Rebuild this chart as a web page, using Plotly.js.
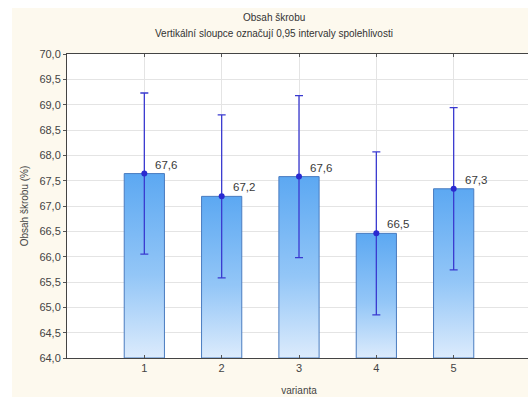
<!DOCTYPE html>
<html>
<head>
<meta charset="utf-8">
<script src="https://cdn.plot.ly/plotly-3.0.1.min.js"></script>
<style>
  html, body { margin: 0; padding: 0; background: #ffffff; width: 528px; height: 397px; overflow: hidden; position: relative; }
  #chart { position: absolute; left: 12px; top: 8px; width: 519px; height: 389px; }
</style>
</head>
<body>
<div id="chart"></div>
<script>
// Data
const categories = [1, 2, 3, 4, 5];
const means = [67.64, 67.19, 67.58, 66.46, 67.34];
const ciHalf = [1.59, 1.61, 1.60, 1.61, 1.60];
const yTickVals = [64.0, 64.5, 65.0, 65.5, 66.0, 66.5, 67.0, 67.5, 68.0, 68.5, 69.0, 69.5, 70.0];

const titleText = 'Obsah škrobu';
const subtitleText = 'Vertikální sloupce označují 0,95 intervaly spolehlivosti';
const xTitle = 'varianta';
const yTitle = 'Obsah škrobu (%)';

const fmt = v => v.toFixed(1).replace('.', ',');
const baseVal = 64.0;

const barTrace = {
  type: 'bar',
  x: categories,
  y: means.map(v => v - baseVal),
  base: baseVal,
  width: 0.52,
  marker: { color: '#7db9f4', line: { color: '#4a7cc0', width: 1 } },
  hoverinfo: 'skip'
};

const meanTrace = {
  type: 'scatter',
  mode: 'markers',
  x: categories,
  y: means,
  marker: { color: '#2a2ad0', size: 6 },
  error_y: { type: 'data', array: ciHalf, visible: true, color: '#3a3ad0', thickness: 1.3, width: 4 },
  hoverinfo: 'skip'
};

const annotations = categories.map((c, i) => ({
  x: c, y: means[i], xref: 'x', yref: 'y',
  text: fmt(means[i]), showarrow: false,
  xanchor: 'left', yanchor: 'bottom', xshift: 9, yshift: 1,
  font: { family: 'Liberation Sans, Arial, sans-serif', size: 11.5, color: '#3a3a3a' }
}));

const plotW = 519 - 55;
const titleX = (274 - 12 - 55) / plotW;
annotations.push({
  xref: 'paper', yref: 'paper', x: titleX, y: 1 + 37/304, xanchor: 'center', yanchor: 'middle',
  text: titleText, showarrow: false,
  font: { family: 'Liberation Sans, Arial, sans-serif', size: 10, color: '#333333' }
});
annotations.push({
  xref: 'paper', yref: 'paper', x: titleX, y: 1 + 21/304, xanchor: 'center', yanchor: 'middle',
  text: subtitleText, showarrow: false,
  font: { family: 'Liberation Sans, Arial, sans-serif', size: 10, color: '#333333' }
});

const layout = {
  width: 519, height: 389,
  margin: { l: 55, r: 0, t: 46, b: 39, pad: 0 },
  paper_bgcolor: '#fdf9ee',
  plot_bgcolor: '#ffffff',
  separators: ', ',
  showlegend: false,
  font: { family: 'Liberation Sans, Arial, sans-serif', size: 11, color: '#444444' },
  xaxis: {
    range: [0, 6],
    tickvals: categories,
    ticktext: categories.map(String),
    ticks: 'inside', ticklen: 3, tickcolor: '#555555',
    showline: true, linecolor: '#444444', linewidth: 1, mirror: 'ticks',
    showgrid: true, gridcolor: '#e4e4e4', gridwidth: 1,
    zeroline: false,
    tickfont: { size: 11, color: '#444444' },
    title: { text: xTitle, font: { size: 10, color: '#444444' }, standoff: 13 }
  },
  yaxis: {
    range: [64, 70],
    tickvals: yTickVals,
    tickformat: '.1f',
    ticks: 'outside', ticklen: 3, tickcolor: '#555555',
    showline: true, linecolor: '#444444', linewidth: 1,
    showgrid: true, gridcolor: '#e4e4e4', gridwidth: 1,
    zeroline: false,
    tickfont: { size: 11, color: '#444444' },
    title: { text: yTitle, font: { size: 10, color: '#444444' }, standoff: 8 }
  },
  annotations: annotations
};

Plotly.newPlot('chart', [barTrace, meanTrace], layout, { displayModeBar: false, staticPlot: true }).then(gd => {
  const svgNS = 'http://www.w3.org/2000/svg';
  const svg = gd.querySelector('svg.main-svg');
  let defs = svg.querySelector('defs');
  if (!defs) { defs = document.createElementNS(svgNS, 'defs'); svg.insertBefore(defs, svg.firstChild); }
  const grad = document.createElementNS(svgNS, 'linearGradient');
  grad.setAttribute('id', 'bargrad');
  grad.setAttribute('x1', '0'); grad.setAttribute('y1', '0');
  grad.setAttribute('x2', '0'); grad.setAttribute('y2', '1');
  [['0%', '#5ca8f2'], ['55%', '#93c6f7'], ['100%', '#dcebfc']].forEach(([o, c]) => {
    const s = document.createElementNS(svgNS, 'stop');
    s.setAttribute('offset', o); s.setAttribute('stop-color', c);
    grad.appendChild(s);
  });
  defs.appendChild(grad);
  gd.querySelectorAll('.barlayer .point path').forEach(p => { p.style.fill = 'url(#bargrad)'; });
});
</script>
</body>
</html>
